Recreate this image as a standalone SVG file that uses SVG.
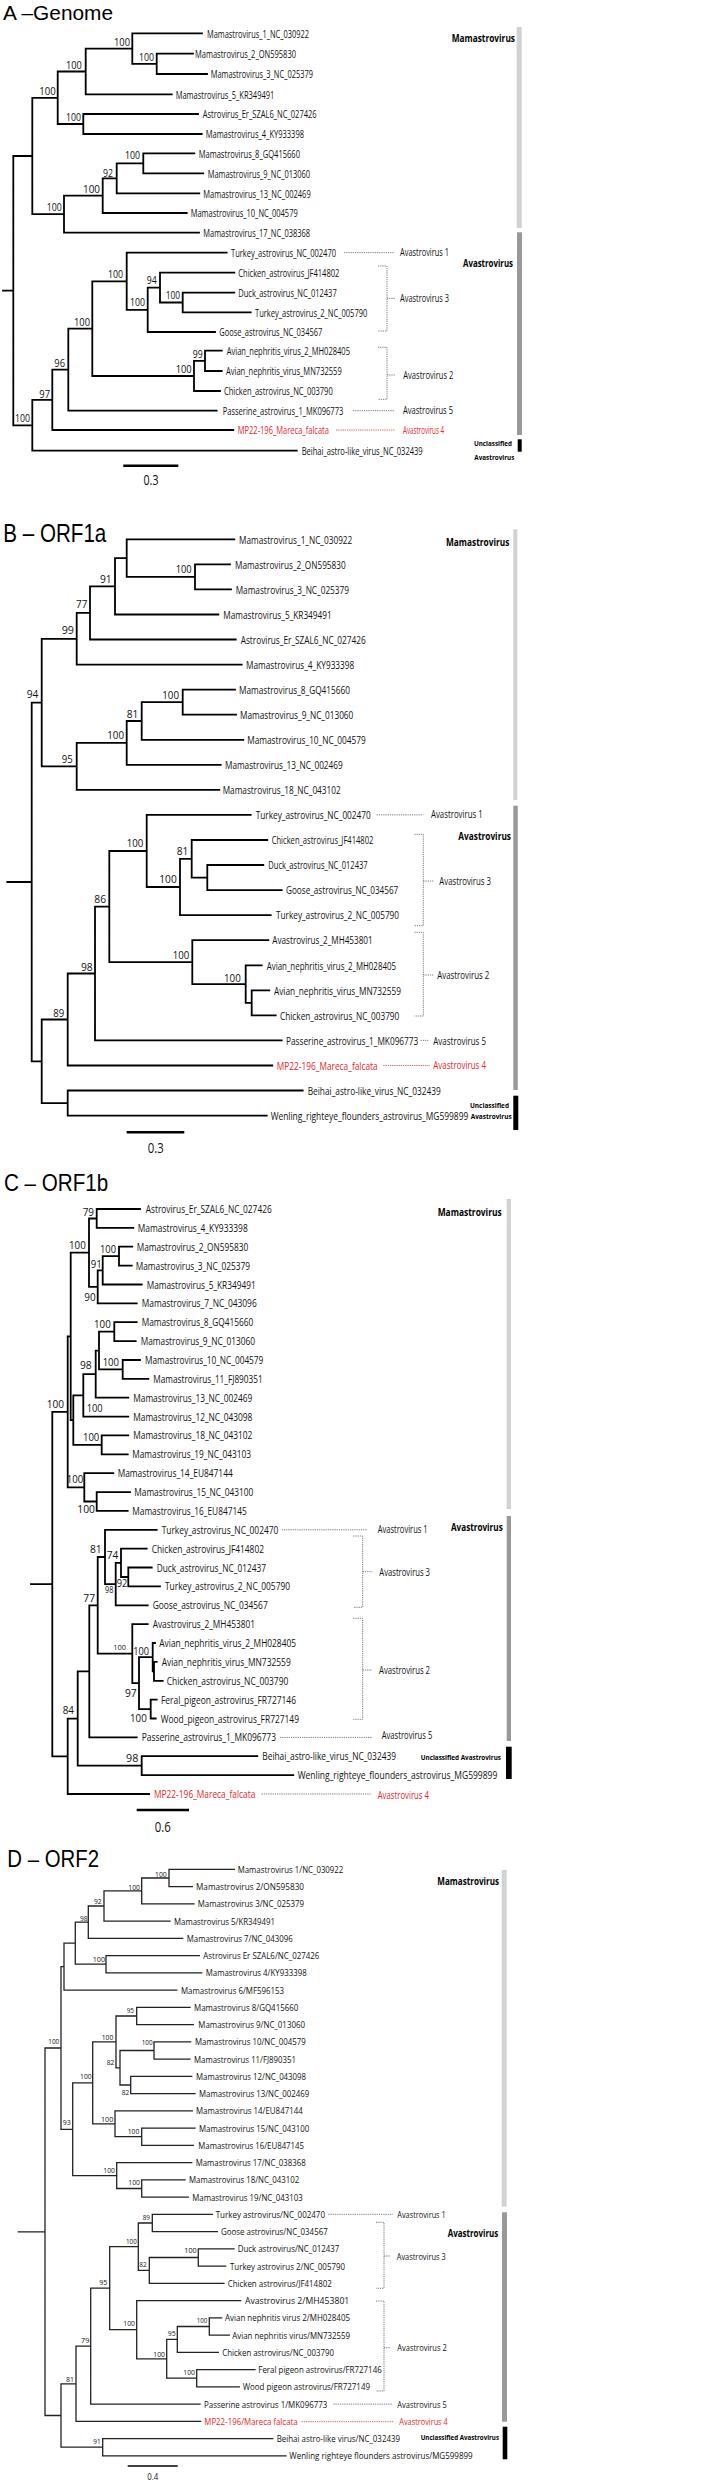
<svg xmlns="http://www.w3.org/2000/svg" width="714" height="2480" viewBox="0 0 714 2480">
<style>
text{font-family:"Open Sans","DejaVu Sans",sans-serif;fill:#111}
.ti{font-family:"Liberation Sans",Arial,sans-serif;fill:#000}
.lA{font-size:10.5px}.lB{font-size:11.5px}.lC{font-size:10.5px}.lD{font-size:9.5px}
.bA{font-size:11px}.bB{font-size:11.5px}.bC{font-size:11.5px}.bD{font-size:7.5px}
.g{font-size:10px}.gD{font-size:9.5px}
.red{fill:#e8261f}
.bo{font-weight:bold;fill:#000}
.sm{font-size:7.5px}
.tree{fill:none;stroke:#000;stroke-width:1.8;stroke-linecap:square}
.treeD{fill:none;stroke:#222;stroke-width:1.3;stroke-linecap:square}
.dot{fill:none;stroke:#555;stroke-width:0.8;stroke-dasharray:1.2 1}
.dotr{fill:none;stroke:#e8261f;stroke-width:0.8;stroke-dasharray:1.2 1}
.bar{stroke:#000;stroke-width:2.5}
</style>
<rect width="714" height="2480" fill="#fff"/>

<!-- ================= PANEL A ================= -->
<g id="panelA">
<text class="ti" x="3" y="20" font-size="21" textLength="110" lengthAdjust="spacingAndGlyphs">A –Genome</text>
<g id="A-connectors">
<path class="tree" d="M132.3 33.4H202M156.7 53.7H193M156.7 74H207M85.7 94.3H171.7M83.3 114H198M83.3 134H201.7M143.3 153.3H194.3M143.3 173.3H203.3M116.7 193.3H199.3M102.7 213H186.7M64 232.7H199M126.7 252.7H226.7M160 272.7H234.3M182.7 292.7H234.3M182.7 312.3H250.7M147.7 332H215M205 350.7H221.7M205 371H221.7M194 391H220M68.3 410.7H216.7M52.3 430H233.3M32.3 450.7H296.7
M156.7 53.7V74M132.3 63.85H156.7M132.3 33.4V63.85M85.7 48.6H132.3M85.7 48.6V94.3M57.7 71.5H85.7M83.3 114V134M57.7 124H83.3M57.7 71.5V124M32.3 97.8H57.7M143.3 153.3V173.3M116.7 163.3H143.3M116.7 163.3V193.3M102.7 178.3H116.7M102.7 178.3V213M64 195.7H102.7M64 195.7V232.7M32.3 214.2H64M32.3 97.8V214.2M13.3 156H32.3
M182.7 292.7V312.3M160 302.5H182.7M160 272.7V302.5M147.7 287.6H160M147.7 287.6V332M126.7 309.8H147.7M126.7 252.7V309.8M92.3 281.3H126.7M205 350.7V371M194 360.9H205M194 360.9V391M92.3 376H194M92.3 281.3V376M68.3 328.6H92.3M68.3 328.6V410.7M52.3 369.7H68.3M52.3 369.7V430M32.3 399.8H52.3M32.3 399.8V450.7M13.3 425.3H32.3M13.3 156V425.3M3 290.7H13.3"/>
<path class="dot" d="M344 252.7H394M353 410.7H394M378 266H387V331H378M387 298.3H395M378 347.3H387V399.3H378M387 375H395.7"/>
<path class="dotr" d="M336 430H395"/>
</g>
<g id="A-leaves" class="lA">
<text x="207" y="37.6" textLength="102" lengthAdjust="spacingAndGlyphs">Mamastrovirus_1_NC_030922</text>
<text x="195" y="57.9" textLength="101" lengthAdjust="spacingAndGlyphs">Mamastrovirus_2_ON595830</text>
<text x="210.7" y="78.2" textLength="102.3" lengthAdjust="spacingAndGlyphs">Mamastrovirus_3_NC_025379</text>
<text x="175.7" y="98.5" textLength="98.6" lengthAdjust="spacingAndGlyphs">Mamastrovirus_5_KR349491</text>
<text x="202.7" y="118.2" textLength="114" lengthAdjust="spacingAndGlyphs">Astrovirus_Er_SZAL6_NC_027426</text>
<text x="205.7" y="138.2" textLength="98.3" lengthAdjust="spacingAndGlyphs">Mamastrovirus_4_KY933398</text>
<text x="198.7" y="157.5" textLength="101.3" lengthAdjust="spacingAndGlyphs">Mamastrovirus_8_GQ415660</text>
<text x="207.7" y="177.5" textLength="102.3" lengthAdjust="spacingAndGlyphs">Mamastrovirus_9_NC_013060</text>
<text x="203.3" y="197.5" textLength="107.4" lengthAdjust="spacingAndGlyphs">Mamastrovirus_13_NC_002469</text>
<text x="190.7" y="217.2" textLength="107" lengthAdjust="spacingAndGlyphs">Mamastrovirus_10_NC_004579</text>
<text x="203.3" y="236.9" textLength="106.7" lengthAdjust="spacingAndGlyphs">Mamastrovirus_17_NC_038368</text>
<text x="231" y="256.9" textLength="105" lengthAdjust="spacingAndGlyphs">Turkey_astrovirus_NC_002470</text>
<text x="238.3" y="276.9" textLength="101" lengthAdjust="spacingAndGlyphs">Chicken_astrovirus_JF414802</text>
<text x="238.3" y="296.9" textLength="98.4" lengthAdjust="spacingAndGlyphs">Duck_astrovirus_NC_012437</text>
<text x="255" y="316.5" textLength="112.3" lengthAdjust="spacingAndGlyphs">Turkey_astrovirus_2_NC_005790</text>
<text x="219.3" y="336.2" textLength="103" lengthAdjust="spacingAndGlyphs">Goose_astrovirus_NC_034567</text>
<text x="226.7" y="354.9" textLength="123.3" lengthAdjust="spacingAndGlyphs">Avian_nephritis_virus_2_MH028405</text>
<text x="226" y="375.2" textLength="115.7" lengthAdjust="spacingAndGlyphs">Avian_nephritis_virus_MN732559</text>
<text x="224" y="395.2" textLength="108.7" lengthAdjust="spacingAndGlyphs">Chicken_astrovirus_NC_003790</text>
<text x="222.7" y="414.9" textLength="120.6" lengthAdjust="spacingAndGlyphs">Passerine_astrovirus_1_MK096773</text>
<text class="red" x="237.7" y="434.2" textLength="91.3" lengthAdjust="spacingAndGlyphs">MP22-196_Mareca_falcata</text>
<text x="301.7" y="454.9" textLength="121" lengthAdjust="spacingAndGlyphs">Beihai_astro-like_virus_NC_032439</text>
</g>
<g id="A-support" class="bA">
<text x="139" y="61" textLength="15" lengthAdjust="spacingAndGlyphs">100</text>
<text x="114" y="46" textLength="16" lengthAdjust="spacingAndGlyphs">100</text>
<text x="66" y="69" textLength="15.7" lengthAdjust="spacingAndGlyphs">100</text>
<text x="66" y="121" textLength="15" lengthAdjust="spacingAndGlyphs">100</text>
<text x="39.3" y="95" textLength="16.4" lengthAdjust="spacingAndGlyphs">100</text>
<text x="125" y="159.3" textLength="15" lengthAdjust="spacingAndGlyphs">100</text>
<text x="103" y="176.7" textLength="10" lengthAdjust="spacingAndGlyphs">92</text>
<text x="83" y="193" textLength="17" lengthAdjust="spacingAndGlyphs">100</text>
<text x="46.7" y="211" textLength="15" lengthAdjust="spacingAndGlyphs">100</text>
<text x="165.7" y="299.3" textLength="14.3" lengthAdjust="spacingAndGlyphs">100</text>
<text x="146.7" y="284.3" textLength="10" lengthAdjust="spacingAndGlyphs">94</text>
<text x="130" y="306" textLength="15" lengthAdjust="spacingAndGlyphs">100</text>
<text x="108" y="277.7" textLength="15" lengthAdjust="spacingAndGlyphs">100</text>
<text x="192.7" y="358" textLength="10" lengthAdjust="spacingAndGlyphs">99</text>
<text x="175.7" y="373" textLength="16" lengthAdjust="spacingAndGlyphs">100</text>
<text x="74" y="325.7" textLength="16" lengthAdjust="spacingAndGlyphs">100</text>
<text x="54.3" y="366.7" textLength="10.7" lengthAdjust="spacingAndGlyphs">96</text>
<text x="39.3" y="397.7" textLength="10.7" lengthAdjust="spacingAndGlyphs">97</text>
<text x="15" y="422" textLength="15" lengthAdjust="spacingAndGlyphs">100</text>
</g>
<g id="A-clades">
<text class="g" x="400" y="256" textLength="49" lengthAdjust="spacingAndGlyphs">Avastrovirus 1</text>
<text class="g" x="400" y="302" textLength="49" lengthAdjust="spacingAndGlyphs">Avastrovirus 3</text>
<text class="g" x="403.3" y="378.5" textLength="50" lengthAdjust="spacingAndGlyphs">Avastrovirus 2</text>
<text class="g" x="403" y="414.2" textLength="50" lengthAdjust="spacingAndGlyphs">Avastrovirus 5</text>
<text class="g red" x="403" y="433.5" textLength="41" lengthAdjust="spacingAndGlyphs">Avastrovirus 4</text>
<rect x="516.7" y="27" width="5" height="201" fill="#d2d2d2"/>
<rect x="517" y="232.3" width="5" height="202.7" fill="#999"/>
<rect x="517.7" y="439.3" width="4" height="12.4" fill="#000"/>
<text class="bo" x="451.7" y="41.8" font-size="10.5" textLength="63.3" lengthAdjust="spacingAndGlyphs">Mamastrovirus</text>
<text class="bo" x="463" y="267" font-size="10.5" textLength="50" lengthAdjust="spacingAndGlyphs">Avastrovirus</text>
<text class="bo sm" x="474" y="446" textLength="38" lengthAdjust="spacingAndGlyphs">Unclassified</text>
<text class="bo sm" x="474.3" y="459.5" textLength="40" lengthAdjust="spacingAndGlyphs">Avastrovirus</text>
</g>
<g id="A-scale">
<path class="bar" d="M123.3 465.7H178.3"/>
<text x="151" y="485" font-size="14" text-anchor="middle" textLength="15" lengthAdjust="spacingAndGlyphs">0.3</text>
</g>
</g>

<!-- ================= PANEL B ================= -->
<g id="panelB">
<text class="ti" x="3.3" y="541.7" font-size="25" textLength="103" lengthAdjust="spacingAndGlyphs">B – ORF1a</text>
<g id="B-connectors">
<path class="tree" d="M126.7 539.3H234.3M195 564.4H230M195 589.4H231M115 614.5H218.3M90 639.5H235.7M76.7 664.6H241.7M182.7 689.7H235M182.7 714.7H236M141.7 739.8H243.3M126.7 764.8H220.7M76.7 789.9H219.3M146.7 814.9H250.7M191.7 840H267.3M207.3 865H263.3M207.3 890.1H281.7M180 915.1H270.7M192.3 940.2H268.3M245.7 965.3H261.7M251.7 990.3H269.3M251.7 1015.4H275.7M95 1040.4H281.7M67.7 1065.5H272.3M67.7 1090.5H302.7M67.7 1115.6H266.7
M195 564.4V589.4M126.7 576.9H195M126.7 539.3V576.9M115 558.1H126.7M115 558.1V614.5M90 586.3H115M90 586.3V639.5M76.7 612.9H90M76.7 612.9V664.6M41.7 638.8H76.7M182.7 689.7V714.7M141.7 702.2H182.7M141.7 702.2V739.8M126.7 721H141.7M126.7 721V764.8M76.7 742.9H126.7M76.7 742.9V789.9M41.7 766.4H76.7M41.7 638.8V766.4M31.7 702.6H41.7
M207.3 865V890.1M191.7 877.6H207.3M191.7 840V877.6M180 858.8H191.7M180 858.8V915.1M146.7 887H180M146.7 814.9V887M109.3 851H146.7M251.7 990.3V1015.4M245.7 1002.9H251.7M245.7 965.3V1002.9M192.3 984.1H245.7M192.3 940.2V984.1M109.3 962.2H192.3M109.3 851V962.2M95 906.6H109.3M95 906.6V1040.4M67.7 973.5H95M67.7 973.5V1065.5M41.7 1019.5H67.7M67.7 1090.5V1115.6M41.7 1103.1H67.7M41.7 1019.5V1103.1M31.7 1061.3H41.7M31.7 702.6V1061.3M7.3 882H31.7"/>
<path class="dot" d="M376.7 814.9H423.3M420.7 1040.4H428.3M414.3 834.3H423.3V925.7H414.3M423.3 881H433.3M414.3 932.3H423.3V1016H414.3M423.3 975H433.3"/>
<path class="dotr" d="M383.3 1065.5H430"/>
</g>
<g id="B-leaves" class="lB">
<text x="239" y="543.5" textLength="113.3" lengthAdjust="spacingAndGlyphs">Mamastrovirus_1_NC_030922</text>
<text x="235" y="568.6" textLength="110.7" lengthAdjust="spacingAndGlyphs">Mamastrovirus_2_ON595830</text>
<text x="235.7" y="593.6" textLength="113.3" lengthAdjust="spacingAndGlyphs">Mamastrovirus_3_NC_025379</text>
<text x="223.3" y="618.7" textLength="108.4" lengthAdjust="spacingAndGlyphs">Mamastrovirus_5_KR349491</text>
<text x="240.7" y="643.7" textLength="125" lengthAdjust="spacingAndGlyphs">Astrovirus_Er_SZAL6_NC_027426</text>
<text x="246" y="668.8" textLength="108.3" lengthAdjust="spacingAndGlyphs">Mamastrovirus_4_KY933398</text>
<text x="239" y="693.9" textLength="111" lengthAdjust="spacingAndGlyphs">Mamastrovirus_8_GQ415660</text>
<text x="240" y="718.9" textLength="113.3" lengthAdjust="spacingAndGlyphs">Mamastrovirus_9_NC_013060</text>
<text x="247.3" y="744" textLength="118.4" lengthAdjust="spacingAndGlyphs">Mamastrovirus_10_NC_004579</text>
<text x="225" y="769" textLength="117.7" lengthAdjust="spacingAndGlyphs">Mamastrovirus_13_NC_002469</text>
<text x="222.7" y="794.1" textLength="118" lengthAdjust="spacingAndGlyphs">Mamastrovirus_18_NC_043102</text>
<text x="255.7" y="819.1" textLength="115" lengthAdjust="spacingAndGlyphs">Turkey_astrovirus_NC_002470</text>
<text x="271.7" y="844.2" textLength="101.6" lengthAdjust="spacingAndGlyphs">Chicken_astrovirus_JF414802</text>
<text x="268.3" y="869.2" textLength="99.4" lengthAdjust="spacingAndGlyphs">Duck_astrovirus_NC_012437</text>
<text x="286" y="894.3" textLength="112.3" lengthAdjust="spacingAndGlyphs">Goose_astrovirus_NC_034567</text>
<text x="276" y="919.3" textLength="123" lengthAdjust="spacingAndGlyphs">Turkey_astrovirus_2_NC_005790</text>
<text x="272.3" y="944.4" textLength="100.4" lengthAdjust="spacingAndGlyphs">Avastrovirus_2_MH453801</text>
<text x="266.7" y="969.5" textLength="129.3" lengthAdjust="spacingAndGlyphs">Avian_nephritis_virus_2_MH028405</text>
<text x="274" y="994.5" textLength="127" lengthAdjust="spacingAndGlyphs">Avian_nephritis_virus_MN732559</text>
<text x="280" y="1019.6" textLength="119.3" lengthAdjust="spacingAndGlyphs">Chicken_astrovirus_NC_003790</text>
<text x="286" y="1044.6" textLength="132.3" lengthAdjust="spacingAndGlyphs">Passerine_astrovirus_1_MK096773</text>
<text class="red" x="276.7" y="1069.7" textLength="101" lengthAdjust="spacingAndGlyphs">MP22-196_Mareca_falcata</text>
<text x="307.7" y="1094.7" textLength="133" lengthAdjust="spacingAndGlyphs">Beihai_astro-like_virus_NC_032439</text>
<text x="270.7" y="1119.8" textLength="197.6" lengthAdjust="spacingAndGlyphs">Wenling_righteye_flounders_astrovirus_MG599899</text>
</g>
<g id="B-support" class="bB">
<text x="175.7" y="573.3" textLength="16" lengthAdjust="spacingAndGlyphs">100</text>
<text x="100" y="583.3" textLength="11.7" lengthAdjust="spacingAndGlyphs">91</text>
<text x="76" y="608.3" textLength="11.3" lengthAdjust="spacingAndGlyphs">77</text>
<text x="61.7" y="634.3" textLength="12.3" lengthAdjust="spacingAndGlyphs">99</text>
<text x="162.3" y="699" textLength="16.7" lengthAdjust="spacingAndGlyphs">100</text>
<text x="126.7" y="717.7" textLength="11.6" lengthAdjust="spacingAndGlyphs">81</text>
<text x="107.3" y="739" textLength="16.7" lengthAdjust="spacingAndGlyphs">100</text>
<text x="61.7" y="763.3" textLength="11" lengthAdjust="spacingAndGlyphs">95</text>
<text x="26.7" y="698.3" textLength="11.6" lengthAdjust="spacingAndGlyphs">94</text>
<text x="176.7" y="855" textLength="11.6" lengthAdjust="spacingAndGlyphs">81</text>
<text x="159.3" y="883.3" textLength="17.4" lengthAdjust="spacingAndGlyphs">100</text>
<text x="126.7" y="847.3" textLength="16.6" lengthAdjust="spacingAndGlyphs">100</text>
<text x="224" y="981.7" textLength="16.7" lengthAdjust="spacingAndGlyphs">100</text>
<text x="172.7" y="959.3" textLength="16.6" lengthAdjust="spacingAndGlyphs">100</text>
<text x="94.3" y="903.3" textLength="11.7" lengthAdjust="spacingAndGlyphs">86</text>
<text x="81" y="970.7" textLength="11.7" lengthAdjust="spacingAndGlyphs">98</text>
<text x="53.3" y="1016.7" textLength="11" lengthAdjust="spacingAndGlyphs">89</text>
</g>
<g id="B-clades">
<text class="g" x="431" y="818.2" textLength="51.7" lengthAdjust="spacingAndGlyphs">Avastrovirus 1</text>
<text class="g" x="439.3" y="884.7" textLength="51.7" lengthAdjust="spacingAndGlyphs">Avastrovirus 3</text>
<text class="g" x="437.3" y="978.7" textLength="52" lengthAdjust="spacingAndGlyphs">Avastrovirus 2</text>
<text class="g" x="433.3" y="1044.5" textLength="52.7" lengthAdjust="spacingAndGlyphs">Avastrovirus 5</text>
<text class="g red" x="433.3" y="1069.3" textLength="52.7" lengthAdjust="spacingAndGlyphs">Avastrovirus 4</text>
<rect x="513.3" y="529.3" width="4" height="270.7" fill="#d2d2d2"/>
<rect x="513.3" y="805.7" width="4.5" height="284.3" fill="#999"/>
<rect x="513.3" y="1095.7" width="5" height="34.3" fill="#000"/>
<text class="bo" x="446" y="546" font-size="10.5" textLength="63.3" lengthAdjust="spacingAndGlyphs">Mamastrovirus</text>
<text class="bo" x="458.3" y="840" font-size="10.5" textLength="52.7" lengthAdjust="spacingAndGlyphs">Avastrovirus</text>
<text class="bo sm" x="470" y="1107.5" textLength="39" lengthAdjust="spacingAndGlyphs">Unclassified</text>
<text class="bo sm" x="470.7" y="1119" textLength="41" lengthAdjust="spacingAndGlyphs">Avastrovirus</text>
</g>
<g id="B-scale">
<path class="bar" d="M126.7 1132.3H184.3"/>
<text x="155.7" y="1153.3" font-size="14" text-anchor="middle" textLength="16" lengthAdjust="spacingAndGlyphs">0.3</text>
</g>
</g>

<!-- ================= PANEL C ================= -->
<g id="panelC">
<text class="ti" x="4" y="1190.7" font-size="24" textLength="104.3" lengthAdjust="spacingAndGlyphs">C – ORF1b</text>
<g id="C-connectors">
<path class="tree" d="M96.7 1209H140M96.7 1227.9H133.3M119 1246.7H132.3M119 1265.6H131.7M102.7 1284.5H141.7M97.7 1303.4H136.7M114.3 1322.2H136.7M114.3 1341.1H135.7M122.7 1360H140M122.7 1378.8H148.3M95.7 1397.7H128.3M83.3 1416.6H128.3M101.7 1435.4H128.3M101.7 1454.3H127.7M84.3 1473.2H113.3M96.7 1492.1H130M96.7 1510.9H127.7M105 1529.8H156.7M121 1548.7H146.7M128.3 1567.5H151.7M128.3 1586.4H160M115.7 1605.3H147.7M132.3 1624.1H147.7M152.7 1643H155M154 1661.9H156.7M154 1680.8H162.7M150.7 1699.6H156.7M150.7 1718.5H155.7M89.3 1737.4H136.7M141.7 1756.2H257.3M141.7 1775.1H293.3M67.7 1794H149
M96.7 1209V1227.9M89 1218.5H96.7M119 1246.7V1265.6M102.7 1256.2H119M102.7 1256.2V1284.5M97.7 1270.3H102.7M97.7 1270.3V1303.4M89 1286.9H97.7M89 1218.5V1286.9M70.7 1252.7H89M114.3 1322.2V1341.1M99 1331.7H114.3M122.7 1360V1378.8M99 1369.4H122.7M99 1331.7V1369.4M95.7 1350.6H99M95.7 1350.6V1397.7M83.3 1374.1H95.7M83.3 1374.1V1416.6M73.3 1395.4H83.3M101.7 1435.4V1454.3M73.3 1444.9H101.7M73.3 1395.4V1444.9M70.7 1420.1H73.3M70.7 1252.7V1420.1M67.7 1336.4H70.7M96.7 1492.1V1510.9M84.3 1501.5H96.7M84.3 1473.2V1501.5M67.7 1487.4H84.3M67.7 1336.4V1487.4M52.3 1411.9H67.7
M128.3 1567.5V1586.4M121 1577H128.3M121 1548.7V1577M115.7 1562.8H121M115.7 1562.8V1605.3M105 1584.1H115.7M105 1529.8V1584.1M97.7 1557H105M154 1661.9V1680.8M152.7 1671.4H154M152.7 1643V1671.4M139 1657.2H152.7M150.7 1699.6V1718.5M139 1709.1H150.7M139 1657.2V1709.1M132.3 1683.2H139M132.3 1624.1V1683.2M97.7 1653.7H132.3M97.7 1557V1653.7M89.3 1605.4H97.7M89.3 1605.4V1737.4M77.7 1671.4H89.3M141.7 1756.2V1775.1M77.7 1765.7H141.7M77.7 1671.4V1765.7M67.7 1718.6H77.7M67.7 1718.6V1794M52.3 1756.3H67.7M52.3 1411.9V1756.3M31 1584.1H52.3"/>
<path class="dot" d="M281.7 1529.8H366.7M280 1737.4H372.3M261.7 1794H370.7M353.3 1536H362.7V1607.3H353.3M362.7 1571.7H372.3M353.3 1618.3H362.7V1719.3H353.3M362.7 1670H372"/>
</g>
<g id="C-leaves" class="lC">
<text x="145.7" y="1213" textLength="126" lengthAdjust="spacingAndGlyphs">Astrovirus_Er_SZAL6_NC_027426</text>
<text x="137.7" y="1231.9" textLength="110" lengthAdjust="spacingAndGlyphs">Mamastrovirus_4_KY933398</text>
<text x="136.7" y="1250.7" textLength="111.6" lengthAdjust="spacingAndGlyphs">Mamastrovirus_2_ON595830</text>
<text x="135.7" y="1269.6" textLength="114.3" lengthAdjust="spacingAndGlyphs">Mamastrovirus_3_NC_025379</text>
<text x="146.7" y="1288.5" textLength="109" lengthAdjust="spacingAndGlyphs">Mamastrovirus_5_KR349491</text>
<text x="141.7" y="1307.4" textLength="115" lengthAdjust="spacingAndGlyphs">Mamastrovirus_7_NC_043096</text>
<text x="141.7" y="1326.2" textLength="111.6" lengthAdjust="spacingAndGlyphs">Mamastrovirus_8_GQ415660</text>
<text x="140.7" y="1345.1" textLength="114.3" lengthAdjust="spacingAndGlyphs">Mamastrovirus_9_NC_013060</text>
<text x="145" y="1364" textLength="118.3" lengthAdjust="spacingAndGlyphs">Mamastrovirus_10_NC_004579</text>
<text x="153.3" y="1382.8" textLength="109.4" lengthAdjust="spacingAndGlyphs">Mamastrovirus_11_FJ890351</text>
<text x="133.3" y="1401.7" textLength="119" lengthAdjust="spacingAndGlyphs">Mamastrovirus_13_NC_002469</text>
<text x="133.3" y="1420.6" textLength="119" lengthAdjust="spacingAndGlyphs">Mamastrovirus_12_NC_043098</text>
<text x="133.3" y="1439.4" textLength="119" lengthAdjust="spacingAndGlyphs">Mamastrovirus_18_NC_043102</text>
<text x="132.3" y="1458.3" textLength="118.7" lengthAdjust="spacingAndGlyphs">Mamastrovirus_19_NC_043103</text>
<text x="117.7" y="1477.2" textLength="115" lengthAdjust="spacingAndGlyphs">Mamastrovirus_14_EU847144</text>
<text x="134.3" y="1496.1" textLength="119" lengthAdjust="spacingAndGlyphs">Mamastrovirus_15_NC_043100</text>
<text x="132.3" y="1514.9" textLength="114.4" lengthAdjust="spacingAndGlyphs">Mamastrovirus_16_EU847145</text>
<text x="161.7" y="1533.8" textLength="116.6" lengthAdjust="spacingAndGlyphs">Turkey_astrovirus_NC_002470</text>
<text x="151.7" y="1552.7" textLength="112.3" lengthAdjust="spacingAndGlyphs">Chicken_astrovirus_JF414802</text>
<text x="156.7" y="1571.5" textLength="109.3" lengthAdjust="spacingAndGlyphs">Duck_astrovirus_NC_012437</text>
<text x="165" y="1590.4" textLength="125" lengthAdjust="spacingAndGlyphs">Turkey_astrovirus_2_NC_005790</text>
<text x="152.7" y="1609.3" textLength="115" lengthAdjust="spacingAndGlyphs">Goose_astrovirus_NC_034567</text>
<text x="152.7" y="1628.1" textLength="102.3" lengthAdjust="spacingAndGlyphs">Avastrovirus_2_MH453801</text>
<text x="159.3" y="1647" textLength="136.7" lengthAdjust="spacingAndGlyphs">Avian_nephritis_virus_2_MH028405</text>
<text x="161.7" y="1665.9" textLength="129" lengthAdjust="spacingAndGlyphs">Avian_nephritis_virus_MN732559</text>
<text x="166.7" y="1684.8" textLength="121.6" lengthAdjust="spacingAndGlyphs">Chicken_astrovirus_NC_003790</text>
<text x="161" y="1703.6" textLength="135" lengthAdjust="spacingAndGlyphs">Feral_pigeon_astrovirus_FR727146</text>
<text x="160.7" y="1722.5" textLength="138.3" lengthAdjust="spacingAndGlyphs">Wood_pigeon_astrovirus_FR727149</text>
<text x="141.7" y="1741.4" textLength="134.3" lengthAdjust="spacingAndGlyphs">Passerine_astrovirus_1_MK096773</text>
<text x="262.3" y="1760.2" textLength="133.7" lengthAdjust="spacingAndGlyphs">Beihai_astro-like_virus_NC_032439</text>
<text x="297.7" y="1779.1" textLength="199.6" lengthAdjust="spacingAndGlyphs">Wenling_righteye_flounders_astrovirus_MG599899</text>
<text class="red" x="154" y="1798" textLength="101.3" lengthAdjust="spacingAndGlyphs">MP22-196_Mareca_falcata</text>
</g>
<g id="C-support" class="bC">
<text x="82.7" y="1215.7" textLength="11.3" lengthAdjust="spacingAndGlyphs">79</text>
<text x="100" y="1252.7" textLength="16" lengthAdjust="spacingAndGlyphs">100</text>
<text x="90.7" y="1267.7" textLength="11" lengthAdjust="spacingAndGlyphs">91</text>
<text x="84.3" y="1301" textLength="11.4" lengthAdjust="spacingAndGlyphs">90</text>
<text x="69" y="1249.3" textLength="16.7" lengthAdjust="spacingAndGlyphs">100</text>
<text x="94" y="1328.3" textLength="16.7" lengthAdjust="spacingAndGlyphs">100</text>
<text x="102.7" y="1366" textLength="16.3" lengthAdjust="spacingAndGlyphs">100</text>
<text x="80" y="1369.3" textLength="11.7" lengthAdjust="spacingAndGlyphs">98</text>
<text x="86.7" y="1411.7" textLength="16" lengthAdjust="spacingAndGlyphs">100</text>
<text x="83" y="1440.5" textLength="16.3" lengthAdjust="spacingAndGlyphs">100</text>
<text x="66.7" y="1483" textLength="16.6" lengthAdjust="spacingAndGlyphs">100</text>
<text x="77.3" y="1513.3" textLength="17.7" lengthAdjust="spacingAndGlyphs">100</text>
<text x="46.7" y="1408.3" textLength="17.3" lengthAdjust="spacingAndGlyphs">100</text>
<text x="116.7" y="1587.3" textLength="10.6" lengthAdjust="spacingAndGlyphs">92</text>
<text x="106.7" y="1559" textLength="11.6" lengthAdjust="spacingAndGlyphs">74</text>
<text x="105" y="1593.3" font-size="9" textLength="8.3" lengthAdjust="spacingAndGlyphs">98</text>
<text x="90" y="1553.3" textLength="11.7" lengthAdjust="spacingAndGlyphs">81</text>
<text x="83.3" y="1601.7" textLength="11.7" lengthAdjust="spacingAndGlyphs">77</text>
<text x="113.3" y="1650" font-size="7.5" textLength="12.7" lengthAdjust="spacingAndGlyphs">100</text>
<text x="133.3" y="1655" textLength="15.7" lengthAdjust="spacingAndGlyphs">100</text>
<text x="125" y="1696.7" textLength="11.7" lengthAdjust="spacingAndGlyphs">97</text>
<text x="130" y="1721.7" textLength="16.7" lengthAdjust="spacingAndGlyphs">100</text>
<text x="62.7" y="1714" textLength="11.3" lengthAdjust="spacingAndGlyphs">84</text>
<text x="126" y="1761.7" textLength="12.3" lengthAdjust="spacingAndGlyphs">98</text>
</g>
<g id="C-clades">
<text class="g" x="377.7" y="1532.5" textLength="50" lengthAdjust="spacingAndGlyphs">Avastrovirus 1</text>
<text class="g" x="379.3" y="1575.5" textLength="50.7" lengthAdjust="spacingAndGlyphs">Avastrovirus 3</text>
<text class="g" x="379" y="1673.8" textLength="51" lengthAdjust="spacingAndGlyphs">Avastrovirus 2</text>
<text class="g" x="381.7" y="1739" textLength="50.6" lengthAdjust="spacingAndGlyphs">Avastrovirus 5</text>
<text class="g red" x="377.7" y="1799" textLength="51.3" lengthAdjust="spacingAndGlyphs">Avastrovirus 4</text>
<rect x="506.7" y="1199" width="4.3" height="310" fill="#d2d2d2"/>
<rect x="506.7" y="1516" width="4.3" height="225" fill="#999"/>
<rect x="506" y="1746.7" width="5.7" height="32.3" fill="#000"/>
<text class="bo" x="437.7" y="1216" font-size="10.5" textLength="64" lengthAdjust="spacingAndGlyphs">Mamastrovirus</text>
<text class="bo" x="451" y="1531" font-size="10.5" textLength="51.7" lengthAdjust="spacingAndGlyphs">Avastrovirus</text>
<text class="bo sm" x="420.7" y="1759.5" textLength="80.3" lengthAdjust="spacingAndGlyphs">Unclassified Avastrovirus</text>
</g>
<g id="C-scale">
<path class="bar" d="M136.7 1810H189"/>
<text x="162.7" y="1831.7" font-size="14" text-anchor="middle" textLength="16" lengthAdjust="spacingAndGlyphs">0.6</text>
</g>
</g>

<!-- ================= PANEL D ================= -->
<g id="panelD">
<text class="ti" x="7.3" y="1866.7" font-size="24" textLength="91.7" lengthAdjust="spacingAndGlyphs">D – ORF2</text>
<g id="D-connectors">
<path class="treeD" d="M169 1869.3H234.3M169 1886.6H192.3M141.7 1903.8H194M104 1921.1H170M88.3 1938.3H182.7M106 1955.6H199.3M106 1972.8H201.7M64 1990.1H176.7M136.7 2007.3H190M136.7 2024.6H193.3M154 2041.8H190.7M154 2059.1H190M130.7 2076.3H191.7M130.7 2093.6H195M115 2110.8H192.3M141.7 2128.1H195M141.7 2145.3H193.3M116.7 2162.6H191.7M141.7 2179.8H185M141.7 2197.1H188.3M152.3 2214.3H212.3M152.3 2231.6H217.3M198.3 2248.8H234M198.3 2266.1H225.7M149.3 2283.3H224M136.7 2300.6H240.7M209.3 2317.8H221.7M209.3 2335.1H229.3M177.3 2352.3H218.3M196.7 2369.6H255M196.7 2386.8H239.3M90.7 2404.1H200M76 2421.3H200.7M102.7 2438.6H272.7M102.7 2455.8H286
M169 1869.3V1886.6M141.7 1878H169M141.7 1878V1903.8M104 1890.9H141.7M104 1890.9V1921.1M88.3 1906H104M88.3 1906V1938.3M75.3 1922.2H88.3M106 1955.6V1972.8M75.3 1964.2H106M75.3 1922.2V1964.2M64 1943.2H75.3M64 1943.2V1990.1M61 1966.7H64M136.7 2007.3V2024.6M116 2016H136.7M154 2041.8V2059.1M120 2050.5H154M130.7 2076.3V2093.6M120 2085H130.7M120 2050.5V2085M116 2067.8H120M116 2016V2067.8M92.7 2041.9H116M141.7 2128.1V2145.3M115 2136.7H141.7M115 2110.8V2136.7M92.7 2123.8H115M92.7 2041.9V2123.8M72.7 2082.9H92.7M141.7 2179.8V2197.1M116.7 2188.5H141.7M116.7 2162.6V2188.5M72.7 2175.6H116.7M72.7 2082.9V2175.6M61 2129.3H72.7M61 1966.7V2129.3M45 2048H61
M152.3 2214.3V2231.6M138.3 2223H152.3M198.3 2248.8V2266.1M149.3 2257.5H198.3M149.3 2257.5V2283.3M138.3 2270.4H149.3M138.3 2223V2270.4M109.7 2246.7H138.3M209.3 2317.8V2335.1M177.3 2326.5H209.3M177.3 2326.5V2352.3M166.7 2339.4H177.3M196.7 2369.6V2386.8M166.7 2378.2H196.7M166.7 2339.4V2378.2M136.7 2358.8H166.7M136.7 2300.6V2358.8M109.7 2329.7H136.7M109.7 2246.7V2329.7M90.7 2288.2H109.7M90.7 2288.2V2404.1M76 2346.2H90.7M76 2346.2V2421.3M61 2383.8H76M102.7 2438.6V2455.8M61 2447.2H102.7M61 2383.8V2447.2M45 2415.5H61M45 2048V2415.5M18.3 2231.8H45"/>
<path class="dot" d="M328.3 2214.3H392.7M333.3 2404.1H392.7M376 2222.3H384V2288.3H376M384 2256H390.7M376 2301H384V2391H376M384 2347.7H390"/>
<path class="dotr" d="M301.7 2421.7H393.3"/>
</g>
<g id="D-leaves" class="lD">
<text x="237.7" y="1872.8" textLength="105.6" lengthAdjust="spacingAndGlyphs">Mamastrovirus 1/NC_030922</text>
<text x="196" y="1890.1" textLength="108" lengthAdjust="spacingAndGlyphs">Mamastrovirus 2/ON595830</text>
<text x="197.7" y="1907.3" textLength="106.3" lengthAdjust="spacingAndGlyphs">Mamastrovirus 3/NC_025379</text>
<text x="174" y="1924.6" textLength="101" lengthAdjust="spacingAndGlyphs">Mamastrovirus 5/KR349491</text>
<text x="186.7" y="1941.8" textLength="106" lengthAdjust="spacingAndGlyphs">Mamastrovirus 7/NC_043096</text>
<text x="203.3" y="1959.1" textLength="116" lengthAdjust="spacingAndGlyphs">Astrovirus Er SZAL6/NC_027426</text>
<text x="205.7" y="1976.3" textLength="101" lengthAdjust="spacingAndGlyphs">Mamastrovirus 4/KY933398</text>
<text x="181" y="1993.6" textLength="103" lengthAdjust="spacingAndGlyphs">Mamastrovirus 6/MF596153</text>
<text x="194" y="2010.8" textLength="104.3" lengthAdjust="spacingAndGlyphs">Mamastrovirus 8/GQ415660</text>
<text x="198.3" y="2028.1" textLength="106.7" lengthAdjust="spacingAndGlyphs">Mamastrovirus 9/NC_013060</text>
<text x="195" y="2045.3" textLength="110.7" lengthAdjust="spacingAndGlyphs">Mamastrovirus 10/NC_004579</text>
<text x="194" y="2062.6" textLength="102" lengthAdjust="spacingAndGlyphs">Mamastrovirus 11/FJ890351</text>
<text x="196" y="2079.8" textLength="110" lengthAdjust="spacingAndGlyphs">Mamastrovirus 12/NC_043098</text>
<text x="199" y="2097.1" textLength="110.3" lengthAdjust="spacingAndGlyphs">Mamastrovirus 13/NC_002469</text>
<text x="196" y="2114.3" textLength="106.7" lengthAdjust="spacingAndGlyphs">Mamastrovirus 14/EU847144</text>
<text x="199" y="2131.6" textLength="110.3" lengthAdjust="spacingAndGlyphs">Mamastrovirus 15/NC_043100</text>
<text x="198.3" y="2148.8" textLength="105.7" lengthAdjust="spacingAndGlyphs">Mamastrovirus 16/EU847145</text>
<text x="195.7" y="2166.1" textLength="110" lengthAdjust="spacingAndGlyphs">Mamastrovirus 17/NC_038368</text>
<text x="189" y="2183.3" textLength="110.3" lengthAdjust="spacingAndGlyphs">Mamastrovirus 18/NC_043102</text>
<text x="192.3" y="2200.6" textLength="110.4" lengthAdjust="spacingAndGlyphs">Mamastrovirus 19/NC_043103</text>
<text x="215.7" y="2217.8" textLength="109.3" lengthAdjust="spacingAndGlyphs">Turkey astrovirus/NC_002470</text>
<text x="221" y="2235.1" textLength="106.7" lengthAdjust="spacingAndGlyphs">Goose astrovirus/NC_034567</text>
<text x="237.7" y="2252.3" textLength="101.6" lengthAdjust="spacingAndGlyphs">Duck astrovirus/NC_012437</text>
<text x="230" y="2269.6" textLength="115" lengthAdjust="spacingAndGlyphs">Turkey astrovirus 2/NC_005790</text>
<text x="227.7" y="2286.8" textLength="104" lengthAdjust="spacingAndGlyphs">Chicken astrovirus/JF414802</text>
<text x="245" y="2304.1" textLength="104.3" lengthAdjust="spacingAndGlyphs">Avastrovirus 2/MH453801</text>
<text x="225" y="2321.3" textLength="125" lengthAdjust="spacingAndGlyphs">Avian nephritis virus 2/MH028405</text>
<text x="232.3" y="2338.6" textLength="117.7" lengthAdjust="spacingAndGlyphs">Avian nephritis virus/MN732559</text>
<text x="222.3" y="2355.8" textLength="111.7" lengthAdjust="spacingAndGlyphs">Chicken astrovirus/NC_003790</text>
<text x="258.3" y="2373.1" textLength="123.4" lengthAdjust="spacingAndGlyphs">Feral pigeon astrovirus/FR727146</text>
<text x="242.7" y="2390.3" textLength="127.3" lengthAdjust="spacingAndGlyphs">Wood pigeon astrovirus/FR727149</text>
<text x="204" y="2407.6" textLength="123.3" lengthAdjust="spacingAndGlyphs">Passerine astrovirus 1/MK096773</text>
<text class="red" x="204.3" y="2424.8" textLength="93.4" lengthAdjust="spacingAndGlyphs">MP22-196/Mareca falcata</text>
<text x="276.7" y="2442.1" textLength="123.3" lengthAdjust="spacingAndGlyphs">Beihai astro-like virus/NC_032439</text>
<text x="289.3" y="2459.3" textLength="183.4" lengthAdjust="spacingAndGlyphs">Wenling righteye flounders astrovirus/MG599899</text>
</g>
<g id="D-support" class="bD">
<text x="155" y="1876.7" textLength="11.7" lengthAdjust="spacingAndGlyphs">100</text>
<text x="128.3" y="1890" textLength="11.7" lengthAdjust="spacingAndGlyphs">100</text>
<text x="94" y="1904.3" textLength="7.7" lengthAdjust="spacingAndGlyphs">92</text>
<text x="80" y="1921" textLength="7.5" lengthAdjust="spacingAndGlyphs">98</text>
<text x="92.7" y="1961.7" textLength="12.3" lengthAdjust="spacingAndGlyphs">100</text>
<text x="126.7" y="2013.3" textLength="7.3" lengthAdjust="spacingAndGlyphs">95</text>
<text x="141.7" y="2045" textLength="11" lengthAdjust="spacingAndGlyphs">100</text>
<text x="101.7" y="2040" textLength="11.6" lengthAdjust="spacingAndGlyphs">100</text>
<text x="106.7" y="2065" textLength="7.6" lengthAdjust="spacingAndGlyphs">82</text>
<text x="121.7" y="2095" textLength="7.6" lengthAdjust="spacingAndGlyphs">82</text>
<text x="80" y="2079.3" textLength="11.7" lengthAdjust="spacingAndGlyphs">100</text>
<text x="101" y="2121.7" textLength="12.3" lengthAdjust="spacingAndGlyphs">100</text>
<text x="127.7" y="2134.3" textLength="11.6" lengthAdjust="spacingAndGlyphs">100</text>
<text x="103.3" y="2173.3" textLength="11.7" lengthAdjust="spacingAndGlyphs">100</text>
<text x="128.3" y="2185" textLength="11.7" lengthAdjust="spacingAndGlyphs">100</text>
<text x="62.7" y="2125" textLength="8" lengthAdjust="spacingAndGlyphs">93</text>
<text x="48.3" y="2044.3" textLength="11" lengthAdjust="spacingAndGlyphs">100</text>
<text x="142.7" y="2220" textLength="7.3" lengthAdjust="spacingAndGlyphs">89</text>
<text x="126" y="2244.3" textLength="10.7" lengthAdjust="spacingAndGlyphs">100</text>
<text x="184.3" y="2253.3" textLength="12.4" lengthAdjust="spacingAndGlyphs">100</text>
<text x="139.3" y="2266.7" textLength="7.4" lengthAdjust="spacingAndGlyphs">82</text>
<text x="196.7" y="2323.3" textLength="10.6" lengthAdjust="spacingAndGlyphs">100</text>
<text x="167.7" y="2336" textLength="8" lengthAdjust="spacingAndGlyphs">95</text>
<text x="183.3" y="2375" textLength="11.7" lengthAdjust="spacingAndGlyphs">100</text>
<text x="153.3" y="2356.7" textLength="11.7" lengthAdjust="spacingAndGlyphs">100</text>
<text x="123.3" y="2326" textLength="11.7" lengthAdjust="spacingAndGlyphs">100</text>
<text x="99.3" y="2285" textLength="8" lengthAdjust="spacingAndGlyphs">95</text>
<text x="81" y="2343.3" textLength="8.3" lengthAdjust="spacingAndGlyphs">79</text>
<text x="66" y="2381.7" textLength="8" lengthAdjust="spacingAndGlyphs">81</text>
<text x="93.3" y="2444.3" textLength="7.4" lengthAdjust="spacingAndGlyphs">91</text>
</g>
<g id="D-clades">
<text class="gD" x="397.3" y="2217.5" textLength="48.4" lengthAdjust="spacingAndGlyphs">Avastrovirus 1</text>
<text class="gD" x="396.7" y="2259.5" textLength="49" lengthAdjust="spacingAndGlyphs">Avastrovirus 3</text>
<text class="gD" x="397.3" y="2351" textLength="49.4" lengthAdjust="spacingAndGlyphs">Avastrovirus 2</text>
<text class="gD" x="397.3" y="2407.5" textLength="49.4" lengthAdjust="spacingAndGlyphs">Avastrovirus 5</text>
<text class="gD red" x="399.3" y="2425" textLength="48.4" lengthAdjust="spacingAndGlyphs">Avastrovirus 4</text>
<rect x="501.7" y="1870" width="5" height="336.7" fill="#d2d2d2"/>
<rect x="502" y="2212.3" width="5" height="209.4" fill="#999"/>
<rect x="502.7" y="2426.7" width="4.6" height="32.6" fill="#000"/>
<text class="bo" x="437.3" y="1885.3" font-size="10" textLength="61.7" lengthAdjust="spacingAndGlyphs">Mamastrovirus</text>
<text class="bo" x="447.7" y="2237" font-size="10" textLength="50.6" lengthAdjust="spacingAndGlyphs">Avastrovirus</text>
<text class="bo sm" x="420.7" y="2440" textLength="78.3" lengthAdjust="spacingAndGlyphs">Unclassified Avastrovirus</text>
</g>
<g id="D-scale">
<path d="M127.7 2466H177.7" stroke="#000" stroke-width="1.5"/>
<text x="152.7" y="2480" font-size="9.5" text-anchor="middle" textLength="11" lengthAdjust="spacingAndGlyphs">0.4</text>
</g>
</g>
</svg>
